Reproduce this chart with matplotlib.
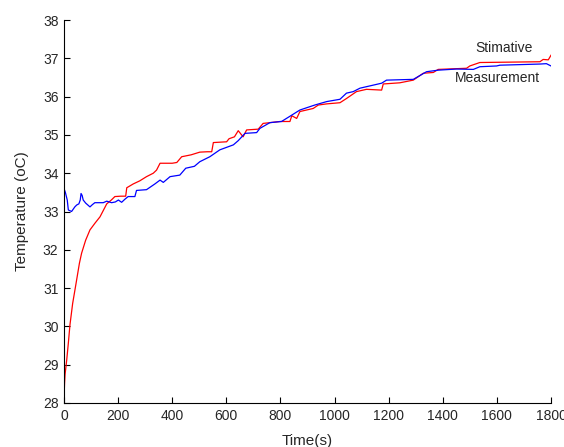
import matplotlib
matplotlib.use("Agg")
import matplotlib.pyplot as plt

plt.rcParams['font.family'] = ['Liberation Sans', 'DejaVu Sans']

# Estimated temperature (model output)
t_stim = [0, 2, 4, 10, 16, 22, 32, 44, 57, 65, 80, 96, 115, 133, 158, 175, 188,
          210, 228, 232, 256, 280, 305, 330, 342, 355, 400, 417, 435, 470, 502,
          530, 546, 552, 601, 610, 630, 644, 662, 675, 718, 736, 798, 835, 842,
          860, 872, 921, 940, 971, 1020, 1044, 1081, 1118, 1174, 1180, 1241,
          1291, 1328, 1365, 1383, 1488, 1500, 1537, 1759, 1771, 1790, 1800]
T_stim = [28.1, 28.5, 28.75, 29.12, 29.56, 30.04, 30.6, 31.1, 31.65, 31.91,
          32.25, 32.52, 32.7, 32.86, 33.2, 33.3, 33.39, 33.4, 33.4, 33.62,
          33.72, 33.8, 33.91, 34.0, 34.08, 34.26, 34.26, 34.28, 34.43, 34.48,
          34.55, 34.56, 34.56, 34.8, 34.82, 34.9, 34.95, 35.11, 34.95, 35.13,
          35.15, 35.3, 35.35, 35.35, 35.5, 35.43, 35.61, 35.69, 35.78, 35.81,
          35.84, 35.95, 36.13, 36.19, 36.17, 36.33, 36.36, 36.43, 36.61, 36.63,
          36.71, 36.74, 36.8, 36.89, 36.91, 36.97, 36.96, 37.08]

# Measured temperature
t_meas = [0, 5, 12, 16, 28, 40, 47, 55, 60, 63, 67, 71, 80, 96, 105, 114, 145,
          158, 176, 190, 201, 213, 225, 237, 262, 268, 305, 336, 355, 367, 392,
          428, 450, 482, 502, 539, 576, 626, 644, 669, 712, 724, 761, 804, 829,
          872, 927, 971, 1020, 1044, 1069, 1094, 1131, 1174, 1192, 1291, 1340,
          1383, 1451, 1513, 1537, 1599, 1611, 1759, 1783, 1800]
T_meas = [33.6, 33.5, 33.3, 33.04, 33.0, 33.12, 33.17, 33.2, 33.3, 33.47, 33.42,
          33.3, 33.22, 33.12, 33.18, 33.23, 33.23, 33.27, 33.23, 33.25, 33.3,
          33.24, 33.32, 33.39, 33.39, 33.55, 33.57, 33.72, 33.82, 33.76, 33.91,
          33.95, 34.13, 34.18, 34.3, 34.43, 34.61, 34.74, 34.85, 35.04, 35.06,
          35.17, 35.32, 35.35, 35.46, 35.65, 35.78, 35.87, 35.93, 36.09, 36.13,
          36.22, 36.28, 36.35, 36.43, 36.45, 36.65, 36.69, 36.72, 36.71, 36.78,
          36.8, 36.82, 36.85, 36.86, 36.8]

x_ticks = list(range(0, 1801, 200))
y_ticks = list(range(28, 39))

text_color = '#262626'

fig = plt.figure(figsize=(5.64, 4.47), dpi=100)
ax = fig.add_axes([64 / 564, 1 - 403 / 447, (551 - 64) / 564, (403 - 20) / 447])

ax.plot(t_stim, T_stim, color='#ff0000', lw=0.9)
ax.plot(t_meas, T_meas, color='#0000ff', lw=0.9)

ax.set_xlim(0, 1800)
ax.set_ylim(28, 38)
ax.set_xticks(x_ticks)
ax.set_yticks(y_ticks)

for side in ('top', 'right'):
    ax.spines[side].set_visible(False)
for side in ('left', 'bottom'):
    ax.spines[side].set_linewidth(0.8)
    ax.spines[side].set_color('#000000')

ax.tick_params(direction='in', length=4, width=0.8, labelsize=10,
               labelcolor=text_color, pad=4)

ax.text(1519, 37.27, 'Stimative', fontsize=10, color=text_color, va='center', ha='left')
ax.text(1445, 36.49, 'Measurement', fontsize=10, color=text_color, va='center', ha='left')

ax.set_ylabel('Temperature (oC)', fontsize=11, color=text_color, labelpad=10)
ax.set_xlabel('Time(s)', fontsize=11, color=text_color, labelpad=8)

fig.savefig('out.png', dpi=100)
